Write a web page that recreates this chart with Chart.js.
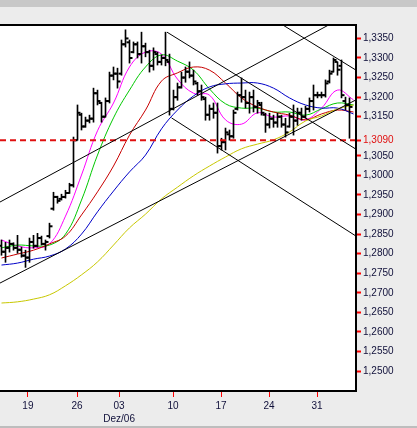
<!doctype html>
<html lang="de">
<head>
<meta charset="utf-8">
<title>Kurs Chart Dez/06</title>
<style>
  html, body { margin: 0; padding: 0; background: #ececec; }
  .wrap { width: 417px; height: 428px; position: relative; }
</style>
</head>
<body>
<div class="wrap"><canvas id="chart"></canvas></div>

<script src="https://cdn.jsdelivr.net/npm/chart.js@4"></script>
<script>
  // OHLC bars, one per index (0..87)
  const opens = [1.2820,1.2805,1.2815,1.2825,1.2815,1.2810,1.2795,1.2790,1.2830,1.2820,
    1.2840,1.2825,1.2845,1.2915,1.2945,1.2940,1.2945,1.2955,1.2975,1.3090,
    1.3155,1.3125,1.3140,1.3145,1.3210,1.3185,1.3150,1.3190,1.3255,1.3260,
    1.3260,1.3335,1.3340,1.3315,1.3335,1.3310,1.3330,1.3315,1.3280,1.3310,
    1.3290,1.3300,1.3290,1.3170,1.3200,1.3225,1.3250,1.3265,1.3255,1.3235,
    1.3215,1.3195,1.3155,1.3170,1.3160,1.3075,1.3085,1.3105,1.3100,1.3170,
    1.3205,1.3200,1.3185,1.3200,1.3175,1.3180,1.3155,1.3130,1.3145,1.3135,
    1.3150,1.3130,1.3125,1.3150,1.3140,1.3160,1.3150,1.3170,1.3190,1.3205,
    1.3205,1.3205,1.3240,1.3265,1.3290,1.3280,1.3190,1.3180];
  const highs = [1.2835,1.2829,1.2835,1.2828,1.2847,1.2817,1.2809,1.2840,1.2847,1.2852,
    1.2845,1.2835,1.2878,1.2957,1.2947,1.2952,1.2962,1.2980,1.3098,1.3180,
    1.3159,1.3149,1.3154,1.3223,1.3218,1.3187,1.3198,1.3264,1.3277,1.3274,
    1.3346,1.3372,1.3346,1.3341,1.3341,1.3366,1.3338,1.3320,1.3326,1.3315,
    1.3308,1.3366,1.3310,1.3218,1.3236,1.3264,1.3277,1.3290,1.3269,1.3238,
    1.3231,1.3200,1.3180,1.3185,1.3185,1.3095,1.3121,1.3116,1.3167,1.3213,
    1.3249,1.3218,1.3213,1.3218,1.3192,1.3187,1.3159,1.3159,1.3154,1.3159,
    1.3154,1.3146,1.3159,1.3180,1.3172,1.3172,1.3177,1.3198,1.3231,1.3213,
    1.3213,1.3244,1.3269,1.3300,1.3290,1.3295,1.3200,1.3198];
  const lows = [1.2796,1.2778,1.2804,1.2809,1.2801,1.2791,1.2765,1.2778,1.2814,1.2817,
    1.2822,1.2809,1.2840,1.2911,1.2929,1.2937,1.2942,1.2954,1.2970,1.3090,
    1.3116,1.3123,1.3134,1.3136,1.3180,1.3136,1.3149,1.3185,1.3244,1.3223,
    1.3256,1.3328,1.3287,1.3313,1.3300,1.3287,1.3303,1.3264,1.3269,1.3282,
    1.3282,1.3280,1.3154,1.3167,1.3192,1.3223,1.3238,1.3249,1.3231,1.3205,
    1.3192,1.3141,1.3141,1.3146,1.3057,1.3065,1.3065,1.3090,1.3095,1.3167,
    1.3187,1.3172,1.3159,1.3162,1.3159,1.3154,1.3110,1.3121,1.3123,1.3123,
    1.3123,1.3098,1.3123,1.3103,1.3128,1.3141,1.3146,1.3162,1.3167,1.3198,
    1.3198,1.3200,1.3236,1.3264,1.3256,1.3198,1.3167,1.3095];
  const closes = [1.2805,1.2815,1.2825,1.2815,1.2810,1.2795,1.2790,1.2830,1.2820,1.2840,
    1.2825,1.2830,1.2870,1.2945,1.2935,1.2945,1.2955,1.2975,1.3090,1.3160,
    1.3125,1.3140,1.3145,1.3210,1.3190,1.3150,1.3190,1.3255,1.3260,1.3240,
    1.3335,1.3350,1.3300,1.3335,1.3310,1.3330,1.3315,1.3280,1.3315,1.3290,
    1.3300,1.3295,1.3170,1.3200,1.3225,1.3250,1.3265,1.3255,1.3240,1.3215,
    1.3200,1.3155,1.3170,1.3160,1.3075,1.3085,1.3110,1.3100,1.3160,1.3205,
    1.3200,1.3185,1.3200,1.3175,1.3185,1.3160,1.3130,1.3145,1.3135,1.3150,
    1.3130,1.3110,1.3150,1.3140,1.3160,1.3150,1.3170,1.3190,1.3205,1.3205,
    1.3205,1.3235,1.3260,1.3295,1.3270,1.3205,1.3180,1.3175];

  // moving averages, read every 4 bars
  const maIdx   = [0,4,8,12,16,20,24,28,32,36,40,44,48,52,56,60,64,68,72,76,80,84,88];
  const maFast  = [1.2835,1.2820,1.2815,1.2825,1.2896,1.3001,1.3114,1.3185,1.3277,1.3315,1.3310,1.3246,1.3210,1.3205,1.3142,1.3131,1.3160,1.3149,1.3152,1.3142,1.3172,1.3218,1.3193];
  const maGreen = [1.2815,1.2822,1.2820,1.2822,1.2850,1.2937,1.3052,1.3147,1.3218,1.3277,1.3308,1.3292,1.3269,1.3221,1.3183,1.3172,1.3172,1.3162,1.3162,1.3154,1.3170,1.3185,1.3180];
  const maRed   = [1.2789,1.2799,1.2809,1.2825,1.2845,1.2899,1.2958,1.3024,1.3103,1.3167,1.3241,1.3262,1.3277,1.3269,1.3236,1.3198,1.3175,1.3162,1.3154,1.3142,1.3157,1.3167,1.3162];
  const maBlue  = [1.2771,1.2776,1.2786,1.2794,1.2812,1.2850,1.2907,1.2960,1.3009,1.3052,1.3119,1.3167,1.3203,1.3226,1.3234,1.3236,1.3236,1.3223,1.3198,1.3180,1.3172,1.3172,1.3157];
  const maSlow  = [1.2674,1.2677,1.2684,1.2695,1.2718,1.2746,1.2779,1.2822,1.2866,1.2901,1.2940,1.2970,1.2999,1.3024,1.3047,1.3068,1.3080,1.3091,1.3111,1.3139,1.3152,1.3170,1.3180];

  // trend lines: [[x1, y1], [x2, y2]]
  const trendLines = [
    [[-0.375, 1.2932], [88.625, 1.3422]],
    [[70.375, 1.3384], [88.625, 1.3269]],
    [[41.375, 1.3366], [88.625, 1.3067]],
    [[42.5, 1.3147], [88.625, 1.2845]],
    [[-0.375, 1.2725], [88.625, 1.3193]]
  ];

  const lastPrice = 1.3090;

  const xMin = -0.375, xMax = 88.625;
  const xTickPos    = [6.6, 18.9, 29.4, 42.9, 54.9, 66.9, 78.9];
  const xTickLabels = ['19', '26', '03', '10', '17', '24', '31'];
  const monthLabel  = 'Dez/06';
  const monthTick   = 2;

  const yTickValues = [1.250,1.255,1.260,1.265,1.270,1.275,1.280,1.285,1.290,1.295,
    1.300,1.305,1.309,1.315,1.320,1.325,1.330,1.335];
  const yMin = 1.24492, yMax = 1.33843;

  const fmt = v => v.toFixed(4).replace('.', ',');

  const frame = {
    id: 'frame',
    beforeDraw(chart) {
      const { ctx, width, height, chartArea: a } = chart;
      ctx.save();
      ctx.fillStyle = '#ececec';
      ctx.fillRect(0, 0, width, height);
      ctx.fillStyle = '#c8c8c8';
      ctx.fillRect(0, 0, width, 7);
      ctx.fillStyle = '#bdbdbd';
      ctx.fillRect(0, height - 2, width, 2);
      ctx.fillStyle = '#fff';
      ctx.fillRect(a.left, a.top, a.right - a.left, a.bottom - a.top);
      ctx.restore();
    },
    afterDatasetsDraw(chart) {
      const { ctx, chartArea: a } = chart;
      ctx.save();
      ctx.strokeStyle = '#000';
      ctx.lineWidth = 2;
      ctx.beginPath();
      ctx.moveTo(a.left, a.top);
      ctx.lineTo(a.right, a.top);
      ctx.lineTo(a.right, a.bottom);
      ctx.lineTo(a.left, a.bottom);
      ctx.stroke();
      ctx.restore();
    }
  };

  const maLine = (vals, color) => ({
    type: 'line',
    data: maIdx.map((x, k) => ({ x, y: vals[k] })),
    borderColor: color,
    borderWidth: 1,
    pointRadius: 0,
    tension: 0.4,
    order: 3
  });

  const tickMarks = (vals, shift) => ({
    type: 'line',
    data: vals.map((v, i) => ({ x: i + shift, y: v })),
    showLine: false,
    pointStyle: 'line',
    pointRadius: 1.5,
    pointBorderWidth: 2,
    pointBorderColor: '#000',
    pointBackgroundColor: '#000',
    order: 1
  });

  const datasets = [
    {
      type: 'bar',
      data: highs.map((h, i) => ({ x: i, y: [lows[i], h] })),
      backgroundColor: '#000',
      barThickness: 1,
      order: 1
    },
    tickMarks(opens, -0.375),
    tickMarks(closes, 0.375),
    maLine(maSlow, '#c8c800'),
    maLine(maBlue, '#0000c8'),
    maLine(maRed, '#c80000'),
    maLine(maGreen, '#00c800'),
    maLine(maFast, '#ff00ff'),
    ...trendLines.map(t => ({
      type: 'line',
      data: t.map(p => ({ x: p[0], y: p[1] })),
      borderColor: '#000',
      borderWidth: 1,
      pointRadius: 0,
      order: 0
    })),
    {
      type: 'line',
      data: [{ x: xMin, y: lastPrice }, { x: xMax, y: lastPrice }],
      borderColor: '#e01010',
      borderWidth: 2,
      borderDash: [6, 4],
      pointRadius: 0,
      order: 0
    }
  ];

  Chart.defaults.font.family = '"Liberation Sans", Arial, sans-serif';
  Chart.defaults.font.size = 10;

  new Chart(document.getElementById('chart'), {
    type: 'bar',
    data: { datasets },
    options: {
      responsive: true,
      maintainAspectRatio: false,
      devicePixelRatio: 1,
      animation: false,
      layout: { autoPadding: false, padding: { top: 25, left: 0, right: 0, bottom: 0 } },
      plugins: { legend: { display: false }, tooltip: { enabled: false } },
      scales: {
        x: {
          type: 'linear',
          min: xMin,
          max: xMax,
          offset: false,
          border: { display: false },
          grid: { drawOnChartArea: false, offset: false, tickLength: 6, tickColor: '#ff0000', tickWidth: 1 },
          afterBuildTicks: s => { s.ticks = xTickPos.map(v => ({ value: v })); },
          afterFit: s => { s.height = 37; s.paddingLeft = 0; s.paddingRight = 0; },
          ticks: {
            autoSkip: false,
            maxRotation: 0,
            padding: 3,
            color: '#10103a',
            font: { size: 10, lineHeight: 1.3 },
            callback: (v, i) => i === monthTick ? [xTickLabels[i], monthLabel] : xTickLabels[i]
          }
        },
        y: {
          position: 'right',
          min: yMin,
          max: yMax,
          border: { display: false },
          grid: { drawOnChartArea: false, tickLength: 5, tickColor: '#ff0000', tickWidth: 2 },
          afterBuildTicks: s => { s.ticks = yTickValues.map(v => ({ value: v })); },
          afterFit: s => { s.width = 61; s.paddingTop = 0; s.paddingBottom = 0; },
          ticks: {
            autoSkip: false,
            padding: 2,
            font: { size: 10 },
            color: c => (c.tick && Math.abs(c.tick.value - lastPrice) < 1e-9) ? '#e01010' : '#10103a',
            callback: v => fmt(v)
          }
        }
      }
    },
    plugins: [frame]
  });
</script>
</body>
</html>
